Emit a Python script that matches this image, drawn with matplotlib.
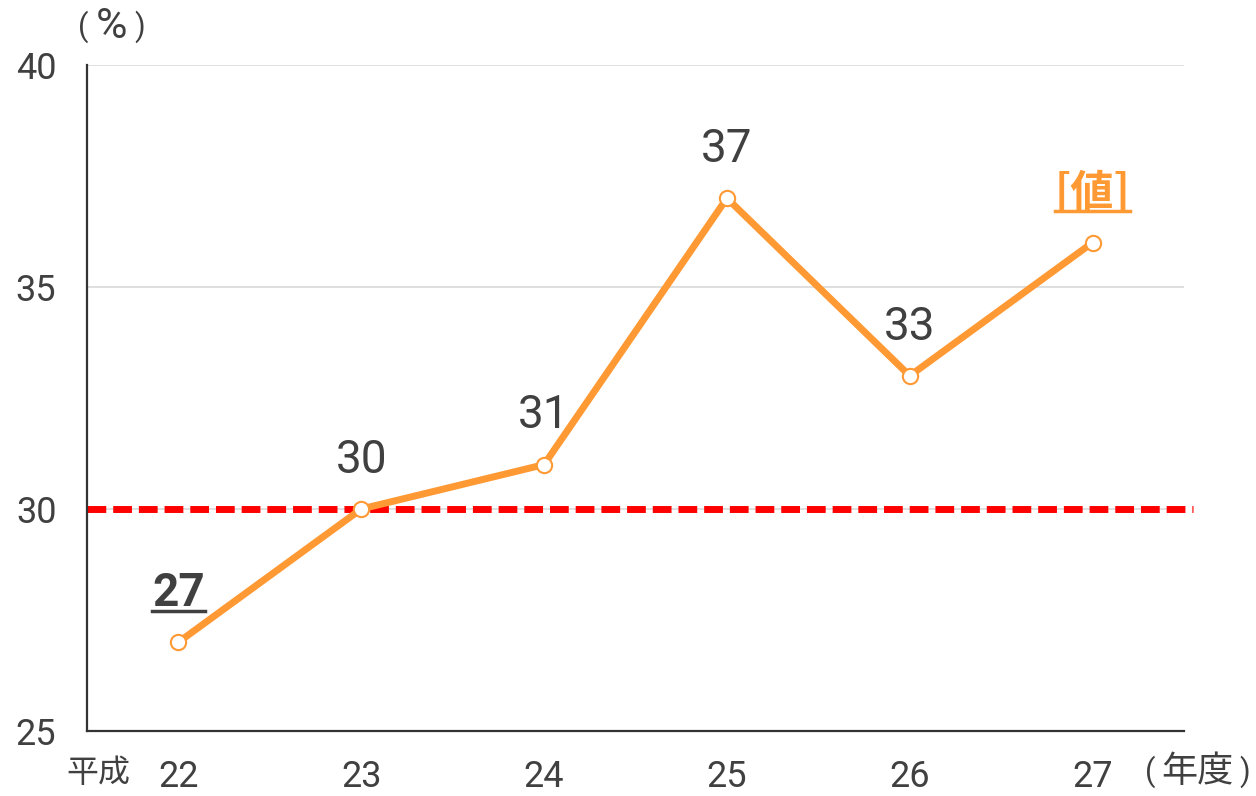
import matplotlib
matplotlib.use("Agg")
import matplotlib.pyplot as plt
from matplotlib.lines import Line2D

plt.rcParams['font.family'] = ['Roboto', 'Noto Sans CJK JP', 'DejaVu Sans']
CJK = ['Noto Sans CJK JP', 'DejaVu Sans']
LAT = ['Roboto', 'DejaVu Sans']

# data
years = ['22', '23', '24', '25', '26', '27']
rates = [27, 30, 31, 37, 33, 36]
labels = ['27', '30', '31', '37', '33', '[値]']
target = 30
y_ticks = [25, 30, 35, 40]

ORANGE = '#FF9933'
TEXT = '#404040'

fig = plt.figure(figsize=(12.56, 7.96), dpi=100)
ax = fig.add_axes([87 / 1256, 1 - 731 / 796, 1097 / 1256, 666 / 796])

x = list(range(len(years)))
ax.set_xlim(-0.5, len(years) - 0.5)
ax.set_ylim(25, 40)

for v in [30, 35, 40]:
    ax.axhline(v, color='#d9d9d9', linewidth=1.2, zorder=0)

ax.plot([-0.5, len(years) - 0.45], [target, target], color='#FF0000',
        linewidth=5, linestyle=(0, (2.7, 1.0)), clip_on=False, zorder=2)

ax.plot(x, rates, color=ORANGE, linewidth=5, marker='o', markersize=11,
        markerfacecolor='white', markeredgecolor=ORANGE, markeredgewidth=1.5,
        zorder=3)

# data labels
underlined = []
for i, (v, lab) in enumerate(zip(rates, labels)):
    style = dict(ha='center', va='baseline', fontsize=33, color=TEXT)
    if i == 0:
        style['fontweight'] = 'bold'
    elif i == len(rates) - 1:
        style.update(fontweight='bold', color=ORANGE, family=CJK, fontsize=31)
    t = ax.annotate(lab, (i, v), xytext=(0, 26), textcoords='offset points',
                    **style)
    if 'fontweight' in style:
        underlined.append((t, style['color']))

ax.set_xticks(x)
ax.set_xticklabels(years)
ax.set_yticks(y_ticks)
ax.tick_params(axis='both', length=0, labelsize=26, labelcolor=TEXT)
ax.tick_params(axis='x', pad=20)
ax.tick_params(axis='y', pad=22)

for side in ['top', 'right']:
    ax.spines[side].set_visible(False)
for side in ['left', 'bottom']:
    ax.spines[side].set_color('#333333')
    ax.spines[side].set_linewidth(1.6)


def unit_label(parts, y):
    # parts: (text, x centre in px, fontsize, family)
    for s, xp, fs, fam in parts:
        fig.text(xp / 1256, 1 - y / 796, s, ha='center', va='center',
                 fontsize=fs, color=TEXT, family=fam)


unit_label([('(', 83, 22, LAT), ('%', 112, 31, LAT), (')', 140, 22, LAT)], 27)
unit_label([('平成', 98, 23, CJK)], 773)
unit_label([('(', 1150, 22, LAT), ('年度', 1197, 26, CJK),
            (')', 1245, 22, LAT)], 772)

# underline the highlighted labels
fig.canvas.draw()
renderer = fig.canvas.get_renderer()
inv = fig.transFigure.inverted()
for t, c in underlined:
    bb = t.get_window_extent(renderer)
    (x0, y0), (x1, _) = inv.transform([[bb.x0, bb.y0], [bb.x1, bb.y1]])
    yl = y0 + 4 / 796
    fig.add_artist(Line2D([x0, x1], [yl, yl], color=c, linewidth=2.5,
                          transform=fig.transFigure))

fig.savefig('out.png', dpi=100, facecolor='white')
